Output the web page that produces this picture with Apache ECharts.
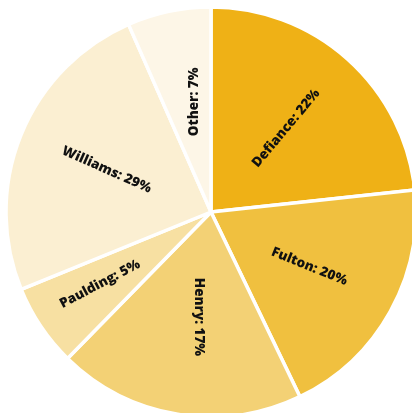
<!DOCTYPE html>
<html>
<head>
<meta charset="utf-8">
<script src="https://cdn.jsdelivr.net/npm/echarts@6/dist/echarts.min.js"></script>
<style>html,body{margin:0;padding:0;background:#fff}#c{width:412px;height:413px}</style>
</head>
<body>
<div id="c"></div>
<script>
// Data
const categories = ['Defiance', 'Fulton', 'Henry', 'Paulding', 'Williams', 'Other'];
// slice sizes as drawn (angle shares)
const values = [23.3, 19.6, 19.5, 6.5, 24.6, 6.6];
// percentage texts as printed on the chart
const labelPct = [22, 20, 17, 5, 29, 7];

const colors = ['#EFB116', '#F0C03F', '#F3D175', '#F7E0A2', '#FBEFD2', '#FDF6E7'];
const rotations = [50, -22, -90, 28, -24, 90];
const paddings = [0, 0, [0, 12, 0, 0], [0, 40, 0, 0], 0, 0];
// blank spacer line used to nudge vertical labels sideways
const spacer = ['', '', 'after', '', '', 'before'];

const chart = echarts.init(document.getElementById('c'), null, {renderer: 'canvas'});

const mainData = categories.map((n, i) => ({
  name: n, value: values[i], itemStyle: {color: colors[i]}
}));
const labelData = categories.map((n, i) => ({
  name: n, value: values[i],
  label: {rotate: rotations[i], padding: paddings[i]}
}));

chart.setOption({
  animation: false,
  series: [
    {
      type: 'pie',
      center: [211, 212],
      radius: [0, 205],
      startAngle: 90,
      clockwise: true,
      avoidLabelOverlap: false,
      label: {show: false},
      labelLine: {show: false},
      itemStyle: {borderColor: '#fff', borderWidth: 3.5},
      emphasis: {disabled: true},
      data: mainData
    },
    {
      type: 'pie',
      silent: true,
      center: [211, 212],
      radius: [14, 205],
      startAngle: 90,
      clockwise: true,
      avoidLabelOverlap: false,
      itemStyle: {color: 'rgba(0,0,0,0)', borderWidth: 0},
      labelLine: {show: false},
      emphasis: {disabled: true},
      label: {
        show: true,
        position: 'inside',
        fontFamily: 'Open Sans',
        fontWeight: 800,
        fontSize: 13.5,
        lineHeight: 13,
        color: '#111',
        formatter: p => {
          const t = p.name + ': ' + labelPct[p.dataIndex] + '%';
          const s = spacer[p.dataIndex];
          return s === 'after' ? t + '\n ' : s === 'before' ? ' \n' + t : t;
        }
      },
      data: labelData
    }
  ]
});
</script>
</body>
</html>
